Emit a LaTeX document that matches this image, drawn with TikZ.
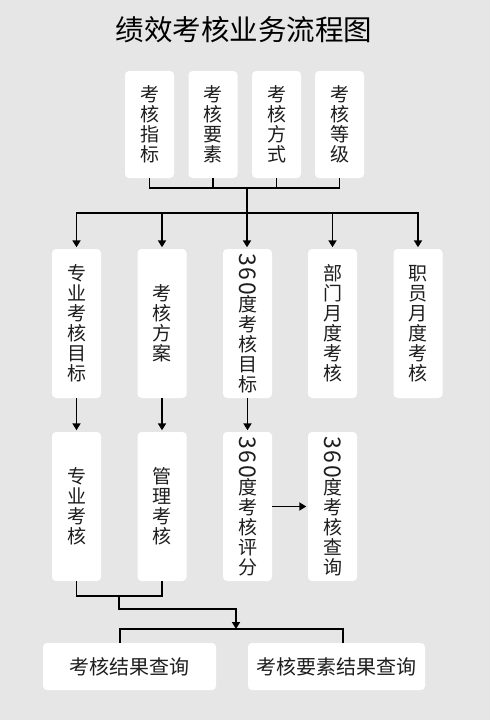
\documentclass[tikz,border=0pt]{standalone}
\usepackage{fontspec}
\usepackage{graphicx}
\setmainfont{Noto Sans CJK SC}
\usetikzlibrary{arrows.meta}
\definecolor{bgc}{HTML}{E6E6E6}
\definecolor{txt}{HTML}{1E1E1E}
\tikzset{
  box/.style={fill=white, draw=none, rounded corners=4pt, inner sep=0pt,
    text=txt, align=center, font=\fontsize{19}{20}\selectfont},
  vbox/.style={box, minimum width=49pt},
  hbox/.style={box, minimum height=47pt, font=\fontsize{20}{22}\selectfont},
  conn/.style={draw=black, line width=1.8pt},
  arr/.style={conn, -{Triangle[length=7pt,width=8pt]}, shorten >=1.5pt},
}
\newcommand{\rotnum}{\rotatebox[origin=c]{-90}{\fontsize{23}{24}\selectfont 3\kern1.5pt 6\kern1.5pt 0}}
\begin{document}
\begin{tikzpicture}[x=1pt,y=-1pt]
\useasboundingbox (0,0) rectangle (490,720);
\fill[bgc] (0,0) rectangle (490,720);
\node[font=\fontsize{28.5}{30}\selectfont, text=black] (title) at (244,30) {绩效考核业务流程图};
% top row
\node[vbox, minimum height=107pt] (t1) at (149.5,124.5) {考\\核\\指\\标};
\node[vbox, minimum height=107pt] (t2) at (213,124.5) {考\\核\\要\\素};
\node[vbox, minimum height=107pt] (t3) at (276.5,124.5) {考\\核\\方\\式};
\node[vbox, minimum height=107pt] (t4) at (339.5,124.5) {考\\核\\等\\级};
% middle row
\node[vbox, minimum height=149pt] (m1) at (76.5,323.5) {专\\业\\考\\核\\目\\标};
\node[vbox, minimum height=149pt] (m2) at (162,323.5) {考\\核\\方\\案};
\node[vbox, minimum height=149pt] (m3) at (247.5,323.5) {\rotnum\\度\\考\\核\\目\\标};
\node[vbox, minimum height=149pt] (m4) at (332.5,323.5) {部\\门\\月\\度\\考\\核};
\node[vbox, minimum height=149pt] (m5) at (418,323.5) {职\\员\\月\\度\\考\\核};
% lower row
\node[vbox, minimum height=149pt] (l1) at (76.5,506.5) {专\\业\\考\\核};
\node[vbox, minimum height=149pt] (l2) at (162,506.5) {管\\理\\考\\核};
\node[vbox, minimum height=149pt] (l3) at (247.5,506.5) {\rotnum\\度\\考\\核\\评\\分};
\node[vbox, minimum height=149pt] (l4) at (332.5,506.5) {\rotnum\\度\\考\\核\\查\\询};
% bottom row
\node[hbox, minimum width=173pt] (b1) at (129.5,666.5) {考核结果查询};
\node[hbox, minimum width=177pt] (b2) at (336.5,666.5) {考核要素结果查询};
% junctions
\coordinate (j1) at (247,188);
\coordinate (j2) at (247,213);
\coordinate (j3) at (119,596);
\coordinate (j4) at (236,609);
\coordinate (j5) at (236,629);
\coordinate (c1) at (120,629);
\coordinate (c2) at (343,629);
% top connectors
\draw[conn] (t1.south) |- (j1);
\draw[conn] (t4.south) |- (j1);
\draw[conn] (t2.south) -- (t2.south |- j1);
\draw[conn] (t3.south) -- (t3.south |- j1);
\draw[conn] (j1) -- (j2);
\draw[arr] (j2) -| (m1.north);
\draw[arr] (j2) -| (m2.north);
\draw[arr] (j2) -- (j2 |- m3.north);
\draw[arr] (j2) -| (m4.north);
\draw[arr] (j2) -| (m5.north);
% middle to lower
\draw[arr] (m1.south) -- (l1.north);
\draw[arr] (m2.south) -- (l2.north);
\draw[arr] (m3.south) -- (l3.north);
\draw[arr] (l3.east) -- (l4.west);
% lower to bottom
\draw[conn] (l1.south) |- (j3);
\draw[conn] (l2.south) |- (j3);
\draw[arr, shorten >=0pt] (j3) |- (j4) -- (j5);
\draw[conn] (b1.north -| c1) |- (c2) -- (b2.north -| c2);
\end{tikzpicture}
\end{document}
